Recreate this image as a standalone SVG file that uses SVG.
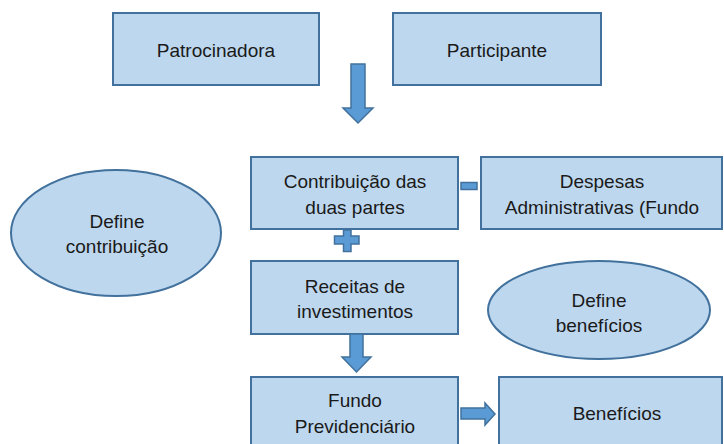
<svg xmlns="http://www.w3.org/2000/svg" width="724" height="444" viewBox="0 0 724 444">
<style>
.box{fill:#BDD7EE;stroke:#41719C;stroke-width:2}
.arw{fill:#5B9BD5;stroke:#41719C;stroke-width:1.5}
text{font-family:"Liberation Sans",Arial,sans-serif;font-size:19px;fill:#1a1a1a;text-anchor:middle}
</style>
<rect width="724" height="444" fill="#ffffff"/>
<g id="patrocinadora"><rect class="box" x="113" y="13" width="206" height="72"/><text x="216" y="57">Patrocinadora</text></g>
<g id="participante"><rect class="box" x="393" y="13" width="208" height="72"/><text x="497" y="57">Participante</text></g>
<g id="define-contribuicao"><ellipse class="box" cx="116" cy="233" rx="105" ry="63"/><text x="117" y="228">Define</text><text x="117" y="253">contribuição</text></g>
<g id="contribuicao"><rect class="box" x="251" y="157" width="207" height="72"/><text x="355" y="188">Contribuição das</text><text x="355" y="214">duas partes</text></g>
<g id="despesas"><rect class="box" x="481" y="157" width="241" height="72"/><text x="602" y="188">Despesas</text><text x="602" y="214">Administrativas (Fundo</text></g>
<g id="receitas"><rect class="box" x="251" y="261" width="207" height="73"/><text x="355" y="293">Receitas de</text><text x="355" y="318">investimentos</text></g>
<g id="define-beneficios"><ellipse class="box" cx="599" cy="310" rx="111" ry="49"/><text x="599" y="307">Define</text><text x="599" y="332">benefícios</text></g>
<g id="fundo"><rect class="box" x="251" y="377" width="207" height="80"/><text x="355" y="407">Fundo</text><text x="355" y="433">Previdenciário</text></g>
<g id="beneficios"><rect class="box" x="499" y="377" width="223" height="80"/><text x="617" y="420">Benefícios</text></g>
<g id="connectors">
<path class="arw" d="M351,64 H365 V108 H373 L358,123 L343,108 H351 Z"/>
<path class="arw" d="M461,182.5 H477 V189.5 H461 Z"/>
<path class="arw" d="M343.5,230 H351 V236 H359 V244 H351 V251.5 H343.5 V244 H334.5 V236 H343.5 Z"/>
<path class="arw" d="M350,334 H363 V357 H371 L356.5,372 L342,357 H350 Z"/>
<path class="arw" d="M461,408 H485 V403 L495,414 L485,425 V419 H461 Z"/>
</g>
</svg>
